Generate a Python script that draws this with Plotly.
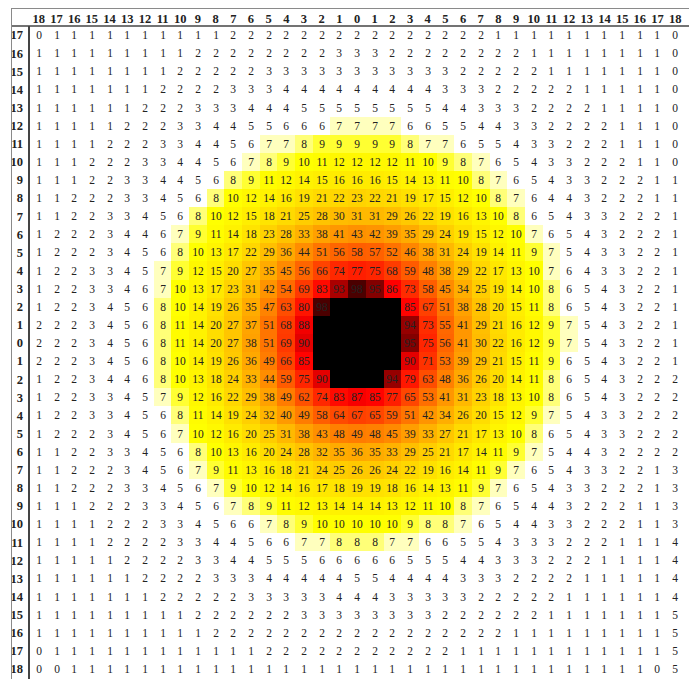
import plotly.graph_objects as go

# Column labels (left to right) and row labels (top to bottom)
col_labels = ["18", "17", "16", "15", "14", "13", "12", "11", "10", "9", "8", "7", "6",
              "5", "4", "3", "2", "1", "0", "1", "2", "3", "4", "5", "6",
              "7", "8", "9", "10", "11", "12", "13", "14", "15", "16", "17", "18"]
row_labels = ["17", "16", "15", "14", "13", "12", "11", "10", "9", "8", "7", "6", "5",
              "4", "3", "2", "1", "0", "1", "2", "3", "4", "5", "6", "7", "8", "9",
              "10", "11", "12", "13", "14", "15", "16", "17", "18"]

B = 100  # saturated (black) centre cells

up_17 = [0,1,1,1,1,1,1,1,1,1,1,2,2, 2,2,2,2,2,2,2,2,2,2,2,2, 2,1,1,1,1,1,1,1,1,1,1,0]
up_16 = [1,1,1,1,1,1,1,1,1,2,2,2,2, 2,2,2,2,3,3,3,2,2,2,2,2, 2,2,2,1,1,1,1,1,1,1,1,0]
up_15 = [1,1,1,1,1,1,1,1,2,2,2,2,2, 3,3,3,3,3,3,3,3,3,3,3,2, 2,2,2,2,1,1,1,1,1,1,1,0]
up_14 = [1,1,1,1,1,1,1,2,2,2,2,3,3, 3,4,4,4,4,4,4,4,4,4,3,3, 3,2,2,2,2,2,1,1,1,1,1,0]
up_13 = [1,1,1,1,1,1,2,2,2,3,3,3,4, 4,4,5,5,5,5,5,5,5,5,4,4, 3,3,3,2,2,2,2,1,1,1,1,0]
up_12 = [1,1,1,1,1,2,2,2,3,3,4,4,5, 5,6,6,6,7,7,7,7,6,6,5,5, 4,4,3,3,2,2,2,2,1,1,1,0]
up_11 = [1,1,1,1,2,2,2,3,3,4,4,5,6, 7,7,8,9,9,9,9,9,8,7,7,6, 5,5,4,3,3,2,2,2,1,1,1,0]
up_10 = [1,1,1,2,2,2,3,3,4,4,5,6,7, 8,9,10,11,12,12,12,12,11,10,9,8, 7,6,5,4,3,3,2,2,2,1,1,0]
up_9 = [1,1,1,2,2,3,3,4,4,5,6,8,9, 11,12,14,15,16,16,16,15,14,13,11,10, 8,7,6,5,4,3,3,2,2,2,1,1]
up_8 = [1,1,2,2,2,3,3,4,5,6,8,10,12, 14,16,19,21,22,23,22,21,19,17,15,12, 10,8,7,6,4,4,3,2,2,2,1,1]
up_7 = [1,1,2,2,3,3,4,5,6,8,10,12,15, 18,21,25,28,30,31,31,29,26,22,19,16, 13,10,8,6,5,4,3,3,2,2,2,1]
up_6 = [1,2,2,2,3,4,4,6,7,9,11,14,18, 23,28,33,38,41,43,42,39,35,29,24,19, 15,12,10,7,6,5,4,3,2,2,2,1]
up_5 = [1,2,2,2,3,4,5,6,8,10,13,17,22, 29,36,44,51,56,58,57,52,46,38,31,24, 19,14,11,9,7,5,4,3,3,2,2,1]
up_4 = [1,2,2,3,3,4,5,7,9,12,15,20,27, 35,45,56,66,74,77,75,68,59,48,38,29, 22,17,13,10,7,6,4,3,3,2,2,1]
up_3 = [1,2,2,3,3,4,6,7,10,13,17,23,31, 42,54,69,83,93,98,95,86,73,58,45,34, 25,19,14,10,8,6,5,4,3,2,2,1]
up_2 = [1,2,2,3,4,5,6,8,10,14,19,26,35, 47,63,80,98,B,B,B,B,85,67,51,38, 28,20,15,11,8,6,5,4,3,2,2,1]
up_1 = [2,2,2,3,4,5,6,8,11,14,20,27,37, 51,68,88,B,B,B,B,B,94,73,55,41, 29,21,16,12,9,7,5,4,3,2,2,1]
mid_0 = [2,2,2,3,4,5,6,8,11,14,20,27,38, 51,69,90,B,B,B,B,B,95,75,56,41, 30,22,16,12,9,7,5,4,3,2,2,1]
down_1 = [2,2,2,3,4,5,6,8,10,14,19,26,36, 49,66,85,B,B,B,B,B,90,71,53,39, 29,21,15,11,9,6,5,4,3,2,2,1]
down_2 = [1,2,2,3,4,4,6,8,10,13,18,24,33, 44,59,75,90,B,B,B,94,79,63,48,36, 26,20,14,11,8,6,5,4,3,2,2,2]
down_3 = [1,2,2,3,3,4,5,7,9,12,16,22,29, 38,49,62,74,83,87,85,77,65,53,41,31, 23,18,13,10,8,6,5,4,3,2,2,2]
down_4 = [1,2,2,3,3,4,5,6,8,11,14,19,24, 32,40,49,58,64,67,65,59,51,42,34,26, 20,15,12,9,7,5,4,3,3,2,2,2]
down_5 = [1,2,2,2,3,4,5,6,7,10,12,16,20, 25,31,38,43,48,49,48,45,39,33,27,21, 17,13,10,8,6,5,4,3,3,2,2,2]
down_6 = [1,1,2,2,3,3,4,5,6,8,10,13,16, 20,24,28,32,35,36,35,33,29,25,21,17, 14,11,9,7,5,4,4,3,2,2,2,2]
down_7 = [1,1,2,2,2,3,4,5,6,7,9,11,13, 16,18,21,24,25,26,26,24,22,19,16,14, 11,9,7,6,5,4,3,3,2,2,1,3]
down_8 = [1,1,2,2,2,3,3,4,5,6,7,9,10, 12,14,16,17,18,19,19,18,16,14,13,11, 9,7,6,5,4,3,3,2,2,2,1,3]
down_9 = [1,1,1,2,2,2,3,3,4,5,6,7,8, 9,11,12,13,14,14,14,13,12,11,10,8, 7,6,5,4,4,3,2,2,2,1,1,3]
down_10 = [1,1,1,1,2,2,2,3,3,4,5,6,6, 7,8,9,10,10,10,10,10,9,8,8,7, 6,5,4,4,3,3,2,2,2,1,1,3]
down_11 = [1,1,1,1,2,2,2,2,3,3,4,4,5, 6,6,7,7,8,8,8,7,7,6,6,5, 5,4,3,3,3,2,2,2,1,1,1,4]
down_12 = [1,1,1,1,1,2,2,2,2,3,3,4,4, 5,5,5,6,6,6,6,6,5,5,5,4, 4,3,3,3,2,2,2,1,1,1,1,4]
down_13 = [1,1,1,1,1,1,2,2,2,2,3,3,3, 4,4,4,4,4,5,5,4,4,4,4,3, 3,3,2,2,2,2,1,1,1,1,1,4]
down_14 = [1,1,1,1,1,1,1,2,2,2,2,2,3, 3,3,3,3,4,4,4,3,3,3,3,3, 2,2,2,2,2,1,1,1,1,1,1,4]
down_15 = [1,1,1,1,1,1,1,1,1,2,2,2,2, 2,2,3,3,3,3,3,3,3,3,2,2, 2,2,2,2,1,1,1,1,1,1,1,5]
down_16 = [1,1,1,1,1,1,1,1,1,1,2,2,2, 2,2,2,2,2,2,2,2,2,2,2,2, 2,2,1,1,1,1,1,1,1,1,1,5]
down_17 = [0,1,1,1,1,1,1,1,1,1,1,1,1, 2,2,2,2,2,2,2,2,2,2,2,1, 1,1,1,1,1,1,1,1,1,1,1,5]
down_18 = [0,0,1,1,1,1,1,1,1,1,1,1,1, 1,1,1,1,1,1,1,1,1,1,1,1, 1,1,1,1,1,1,1,1,1,1,0,5]

z = [up_17, up_16, up_15, up_14, up_13, up_12, up_11, up_10, up_9, up_8, up_7, up_6,
     up_5, up_4, up_3, up_2, up_1, mid_0, down_1, down_2, down_3, down_4, down_5,
     down_6, down_7, down_8, down_9, down_10, down_11, down_12, down_13, down_14,
     down_15, down_16, down_17, down_18]

text = [["" if v >= B else str(v) for v in row] for row in z]

colorscale = [
    [0.00, "rgb(255,255,255)"],
    [0.06, "rgb(255,255,255)"],
    [0.07, "rgb(255,255,190)"],
    [0.08, "rgb(255,255,120)"],
    [0.09, "rgb(255,255,50)"],
    [0.10, "rgb(255,255,0)"],
    [0.86, "rgb(255,0,0)"],
    [0.90, "rgb(228,0,0)"],
    [0.94, "rgb(150,0,0)"],
    [0.98, "rgb(75,0,0)"],
    [1.00, "rgb(0,0,0)"],
]

fig = go.Figure(go.Heatmap(
    z=z,
    x=list(range(len(col_labels))),
    y=list(range(len(row_labels))),
    text=text,
    texttemplate="%{text}",
    textfont=dict(family="Liberation Serif, serif", size=11.5, color="#222222"),
    colorscale=colorscale,
    zmin=0, zmax=100,
    showscale=False,
    hoverinfo="skip",
))

W, H = 689, 679
ml, mr, mt, mb = 11, 5, 8, 1
pw, ph = W - ml - mr, H - mt - mb
grid_left, grid_top = 30, 26  # pixel position of the cell grid


def px_x(px):
    return (px - ml) / pw


def px_y(py):
    return (H - mb - py) / ph


shapes = [
    dict(type="line", xref="paper", yref="paper", x0=px_x(11), x1=px_x(689), y0=px_y(8.5), y1=px_y(8.5),
         line=dict(color="#8a8a8a", width=1)),
    dict(type="line", xref="paper", yref="paper", x0=px_x(11), x1=px_x(689), y0=px_y(26), y1=px_y(26),
         line=dict(color="#444444", width=1.5)),
    dict(type="line", xref="paper", yref="paper", x0=px_x(11.5), x1=px_x(11.5), y0=px_y(8.5), y1=px_y(679),
         line=dict(color="#8a8a8a", width=1)),
    dict(type="line", xref="paper", yref="paper", x0=px_x(29), x1=px_x(29), y0=px_y(26), y1=px_y(679),
         line=dict(color="#444444", width=2)),
]

fig.update_layout(
    width=W, height=H,
    margin=dict(l=ml, r=mr, t=mt, b=mb),
    paper_bgcolor="white", plot_bgcolor="white",
    shapes=shapes,
    xaxis=dict(side="top", domain=[px_x(grid_left), 1], tickmode="array",
               tickvals=list(range(len(col_labels))),
               ticktext=col_labels, range=[-0.5, len(col_labels) - 0.5],
               showgrid=False, zeroline=False, showline=False, ticks="",
               tickfont=dict(family="Liberation Serif, serif", size=12.5, color="#222222", weight="bold")),
    yaxis=dict(domain=[0, px_y(grid_top)], tickmode="array", tickvals=list(range(len(row_labels))),
               ticktext=row_labels, range=[len(row_labels) - 0.5, -0.5],
               showgrid=False, zeroline=False, showline=False, ticks="",
               ticklabelstandoff=6,
               tickfont=dict(family="Liberation Serif, serif", size=12.5, color="#222222", weight="bold")),
)

fig.write_html("out.html", config={"displayModeBar": False},
               post_script="document.body.style.margin='0px';document.body.style.overflow='hidden';")
